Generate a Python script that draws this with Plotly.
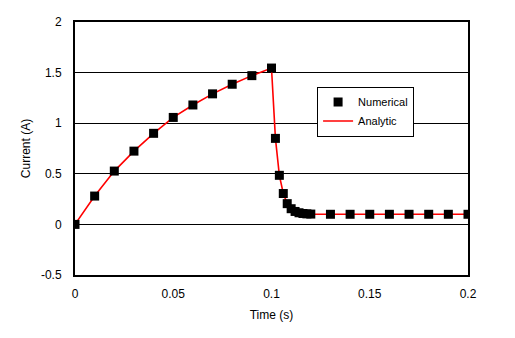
import plotly.graph_objects as go

time_s = [0, 0.01, 0.02, 0.03, 0.04, 0.05, 0.06, 0.07, 0.08, 0.09, 0.1,
          0.102, 0.104, 0.106, 0.108, 0.11, 0.112, 0.114, 0.116, 0.118, 0.12,
          0.13, 0.14, 0.15, 0.16, 0.17, 0.18, 0.19, 0.2]
numerical = [0, 0.28, 0.527, 0.724, 0.90, 1.057, 1.18, 1.29, 1.385, 1.47, 1.545,
             0.85, 0.485, 0.305, 0.205, 0.155, 0.128, 0.115, 0.108, 0.104, 0.102,
             0.1, 0.1, 0.1, 0.1, 0.1, 0.1, 0.1, 0.1]
analytic = [0, 0.28, 0.527, 0.724, 0.90, 1.057, 1.18, 1.29, 1.385, 1.47, 1.545,
            0.85, 0.485, 0.305, 0.205, 0.155, 0.128, 0.115, 0.108, 0.104, 0.102,
            0.1, 0.1, 0.1, 0.1, 0.1, 0.1, 0.1, 0.1]

x_ticks = [0, 0.05, 0.1, 0.15, 0.2]
x_labels = ["0", "0.05", "0.1", "0.15", "0.2"]
y_ticks = [-0.5, 0, 0.5, 1, 1.5, 2]
y_labels = ["-0.5", "0", "0.5", "1", "1.5", "2"]

FONT = "Liberation Sans, Arial, sans-serif"

fig = go.Figure()
fig.add_trace(go.Scatter(
    x=time_s, y=analytic, mode="lines", name="Analytic",
    line=dict(color="#ff0000", width=1.6), legendrank=2))
fig.add_trace(go.Scatter(
    x=time_s, y=numerical, mode="markers", name="Numerical",
    marker=dict(symbol="square", size=9, color="black", line=dict(width=0)),
    legendrank=1))

fig.update_layout(
    width=515, height=338,
    margin=dict(l=75, r=47, t=22, b=63),
    paper_bgcolor="white", plot_bgcolor="white",
    font=dict(family=FONT, size=12, color="black"),
    legend=dict(x=0.616, y=0.745, xanchor="left", yanchor="top",
                bordercolor="black", borderwidth=1, bgcolor="white",
                font=dict(size=11), itemwidth=30, tracegroupgap=0),
    showlegend=True,
)
fig.update_xaxes(
    range=[0, 0.2], tickvals=x_ticks, ticktext=x_labels,
    showgrid=False, zeroline=False, showline=True, mirror=True,
    linecolor="black", linewidth=2, ticks="", ticklabelstandoff=7,
    title=dict(text="Time (s)", standoff=10, font=dict(size=12)),
)
fig.update_yaxes(
    range=[-0.5, 2], tickvals=y_ticks, ticktext=y_labels,
    showgrid=True, gridcolor="black", gridwidth=1, zeroline=False,
    showline=True, mirror=True, linecolor="black", linewidth=2,
    ticks="", ticklabelstandoff=9,
    title=dict(text="Current (A)", standoff=8, font=dict(size=12)),
)

fig.write_html("out.html")
